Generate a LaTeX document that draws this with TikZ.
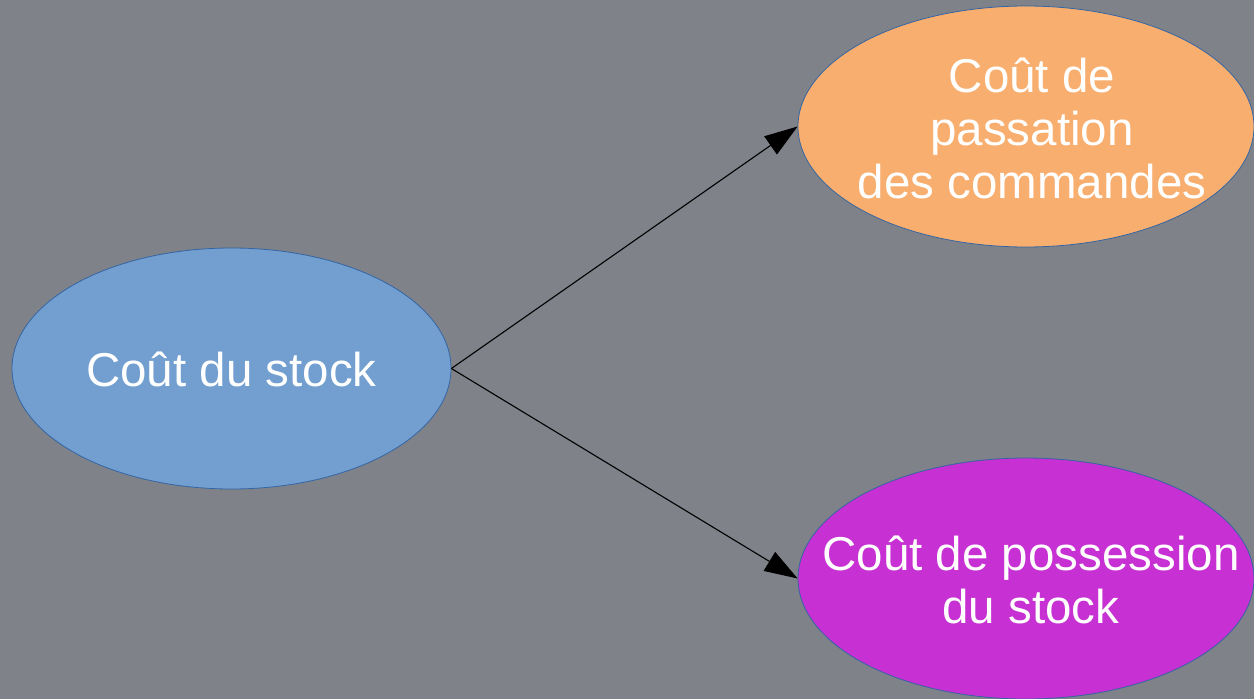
\documentclass[tikz,border=0pt]{standalone}
\usepackage{fontspec}
\setmainfont{Liberation Sans}
\usetikzlibrary{shapes.geometric,arrows.meta}
\definecolor{bgray}{HTML}{7F8288}
\definecolor{cblue}{HTML}{729FCF}
\definecolor{corange}{HTML}{F8AE6E}
\definecolor{cpurple}{HTML}{C730D2}
\definecolor{cedge}{HTML}{3465A4}
\tikzset{
  bubble/.style={ellipse, draw=cedge, line width=0.8pt, inner sep=0pt,
    minimum width=456pt, minimum height=241pt},
  caption/.style={text=white, align=center, inner sep=0pt,
    font=\fontsize{47.5pt}{53pt}\selectfont},
  link/.style={draw=black, line width=1.1pt,
    -{Triangle[length=33pt, width=22pt]}}
}
\begin{document}
\begin{tikzpicture}[x=1pt,y=-1pt]
  \fill[bgray] (0,0) rectangle (1254,699);
  \useasboundingbox (0,0) rectangle (1254,699);
  % ellipses
  \node[bubble, fill=cblue, minimum width=439pt] (stock) at (231.5,368.5) {};
  \node[bubble, fill=corange] (passation) at (1026,126.5) {};
  \node[bubble, fill=cpurple] (possession) at (1026,578.5) {};
  % captions
  \node[caption] (stocktxt) at ([yshift=-1pt]stock.center) {Coût du stock};
  \node[caption] (passationtxt) at ([xshift=6pt,yshift=-2pt]passation.center)
    {Coût de\\passation\\des commandes};
  \node[caption] (possessiontxt) at ([xshift=5pt,yshift=-1pt]possession.center)
    {Coût de possession\\du stock};
  % connectors
  \draw[link] (stock.east) -- (passation.west);
  \draw[link] (stock.east) -- (possession.west);
\end{tikzpicture}
\end{document}
